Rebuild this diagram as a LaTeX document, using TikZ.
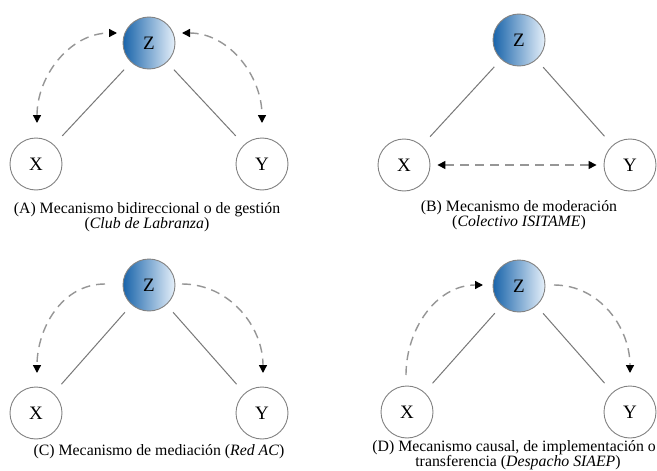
\documentclass[tikz,border=0pt]{standalone}
\usepackage{fontspec}
\setmainfont{Liberation Serif}
\usetikzlibrary{arrows.meta}
\definecolor{zdark}{RGB}{25,100,170}
\definecolor{zlight}{RGB}{230,240,250}
\definecolor{rim}{RGB}{130,130,130}
\definecolor{linkgray}{RGB}{120,120,120}
\definecolor{dashgray}{RGB}{150,150,150}
\tikzset{
  var/.style={circle, draw=rim, line width=0.9pt, minimum size=52pt, inner sep=0pt, font=\fontsize{19}{21}\selectfont},
  zvar/.style={var, left color=zdark, right color=zlight, shading angle=90},
  solidlink/.style={draw=linkgray, line width=1pt, shorten <=12pt, shorten >=10pt},
  dashlink/.style={draw=dashgray, line width=1.4pt, dash pattern=on 9pt off 6pt},
  onetip/.style={-{Triangle[length=8pt,width=8pt,black]}},
  twotips/.style={{Triangle[length=8pt,width=8pt,black]}-{Triangle[length=8pt,width=8pt,black]}},
  captext/.style={font=\fontsize{15.8}{16.8}\selectfont, align=center, inner sep=0pt},
}
\begin{document}
\begin{tikzpicture}[x=1pt,y=-1pt]
\useasboundingbox (0,0) rectangle (657,471);
\fill[white] (0,0) rectangle (657,471);
% ---- Panel A
\node[zvar] (za) at (149,43) {Z};
\node[var] (xa) at (36,164) {X};
\node[var] (ya) at (262,164) {Y};
\draw[solidlink] (xa) -- (za);
\draw[solidlink] (ya) -- (za);
\coordinate (a1) at (37,123);
\coordinate (a2) at (117,33);
\coordinate (a3) at (182,33);
\coordinate (a4) at (262,123);
\draw[dashlink,twotips] (a1) to[out=90,in=180] (a2);
\draw[dashlink,twotips] (a3) to[out=0,in=90] (a4);
\node[captext] (ca) at (147,210) {(A) Mecanismo bidireccional o de gestión};
\node[captext] (ca2) at (147,225) {(\textit{Club de Labranza})};
% ---- Panel B
\node[zvar] (zb) at (519,40) {Z};
\node[var] (xb) at (404,165) {X};
\node[var] (yb) at (630,165) {Y};
\draw[solidlink] (xb) -- (zb);
\draw[solidlink] (yb) -- (zb);
\draw[dashlink,twotips,shorten <=7pt,shorten >=7pt] (xb) -- (yb);
\node[captext] (cb) at (519,208) {(B) Mecanismo de moderación};
\node[captext] (cb2) at (519,223) {(\textit{Colectivo ISITAME})};
% ---- Panel C
\node[zvar] (zc) at (149,285) {Z};
\node[var] (xc) at (36,413) {X};
\node[var] (yc) at (262,413) {Y};
\draw[solidlink] (xc) -- (zc);
\draw[solidlink] (yc) -- (zc);
\coordinate (c1) at (105,284);
\coordinate (c2) at (37,373);
\coordinate (c3) at (182,284);
\coordinate (c4) at (263,373);
\draw[dashlink,onetip] (c1) to[out=180,in=90] (c2);
\draw[dashlink,onetip] (c3) to[out=0,in=90] (c4);
\node[captext] (cc) at (159,452) {(C) Mecanismo de mediación (\textit{Red AC})};
% ---- Panel D
\node[zvar] (zd) at (519,286) {Z};
\node[var] (xd) at (407,412) {X};
\node[var] (yd) at (630,412) {Y};
\draw[solidlink] (xd) -- (zd);
\draw[solidlink] (yd) -- (zd);
\coordinate (d1) at (406,375);
\coordinate (d2) at (483,285);
\coordinate (d3) at (554,285);
\coordinate (d4) at (630,373);
\draw[dashlink,onetip] (d1) to[out=90,in=180] (d2);
\draw[dashlink,onetip] (d3) to[out=0,in=90] (d4);
\node[captext, anchor=east] (cd) at (656,448) {(D) Mecanismo causal, de implementación o};
\node[captext] (cd2) at (518,463) {transferencia (\textit{Despacho SIAEP})};
\end{tikzpicture}
\end{document}
